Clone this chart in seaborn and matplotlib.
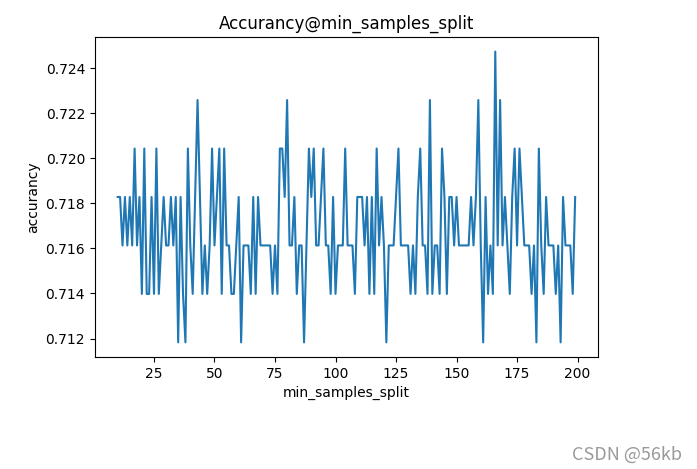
import numpy as np
import pandas as pd
import matplotlib
matplotlib.use("Agg")
import matplotlib.pyplot as plt
import seaborn as sns

# x values: min_samples_split
min_samples_split = list(range(10, 200))

# accuracy (discrete levels)
accurancy = [
    0.71828, 0.71828, 0.71613, 0.71828, 0.71613, 0.71828, 0.71613, 0.72043, 0.71613, 0.71828,
    0.71398, 0.72043, 0.71398, 0.71398, 0.71828, 0.71398, 0.72043, 0.71398, 0.71613, 0.71828,
    0.71613, 0.71613, 0.71828, 0.71613, 0.71828, 0.71183, 0.71828, 0.71398, 0.71183, 0.72043,
    0.71613, 0.71398, 0.71828, 0.72258, 0.71828, 0.71398, 0.71613, 0.71398, 0.71613, 0.72043,
    0.71613, 0.71828, 0.72043, 0.71398, 0.72043, 0.71613, 0.71613, 0.71398, 0.71398, 0.71613,
    0.71828, 0.71183, 0.71613, 0.71613, 0.71613, 0.71398, 0.71828, 0.71398, 0.71828, 0.71613,
    0.71613, 0.71613, 0.71613, 0.71613, 0.71398, 0.71613, 0.71398, 0.72043, 0.72043, 0.71828,
    0.72258, 0.71613, 0.71613, 0.71828, 0.71398, 0.71613, 0.71613, 0.71183, 0.71613, 0.72043,
    0.71828, 0.72043, 0.71613, 0.71613, 0.71828, 0.72043, 0.71613, 0.71613, 0.71398, 0.71828,
    0.71398, 0.71613, 0.71613, 0.71613, 0.72043, 0.71613, 0.71613, 0.71613, 0.71398, 0.71828,
    0.71828, 0.71828, 0.71613, 0.71828, 0.71398, 0.71828, 0.71398, 0.72043, 0.71613, 0.71828,
    0.71613, 0.71183, 0.71613, 0.71613, 0.71613, 0.71828, 0.72043, 0.71613, 0.71613, 0.71613,
    0.71613, 0.71398, 0.71613, 0.71398, 0.71828, 0.72043, 0.71613, 0.71613, 0.71398, 0.72258,
    0.71398, 0.71613, 0.71613, 0.71398, 0.72043, 0.71828, 0.71398, 0.71828, 0.71828, 0.71613,
    0.71828, 0.71613, 0.71613, 0.71613, 0.71613, 0.71613, 0.71828, 0.71613, 0.71828, 0.72258,
    0.71613, 0.71183, 0.71828, 0.71398, 0.71613, 0.71398, 0.72473, 0.71613, 0.72258, 0.71613,
    0.71828, 0.71613, 0.71398, 0.71828, 0.72043, 0.71613, 0.72043, 0.71828, 0.71613, 0.71613,
    0.71613, 0.71398, 0.71613, 0.71183, 0.72043, 0.71613, 0.71398, 0.71828, 0.71613, 0.71613,
    0.71613, 0.71398, 0.71613, 0.71183, 0.71828, 0.71613, 0.71613, 0.71613, 0.71398, 0.71828,
]

title_text = "Accurancy@min_samples_split"
x_label = "min_samples_split"
y_label = "accurancy"
watermark = "CSDN @56kb"

df = pd.DataFrame({x_label: min_samples_split, y_label: accurancy})

fig = plt.figure(figsize=(6.97, 4.69), dpi=100)
ax = fig.add_axes([0.136, 0.239, 0.722, 0.682])
sns.lineplot(data=df, x=x_label, y=y_label, ax=ax, color="#1f77b4", linewidth=1.5)
ax.set_title(title_text, fontsize=12)
ax.set_xlabel(x_label, fontsize=10)
ax.set_ylabel(y_label, fontsize=10)
ax.tick_params(labelsize=10)

fig.text(0.978, 0.012, watermark, ha="right", va="bottom", fontsize=13,
         color="#9a9a9a", family=["Noto Sans CJK SC", "DejaVu Sans"])

fig.savefig("out.png", dpi=100)
